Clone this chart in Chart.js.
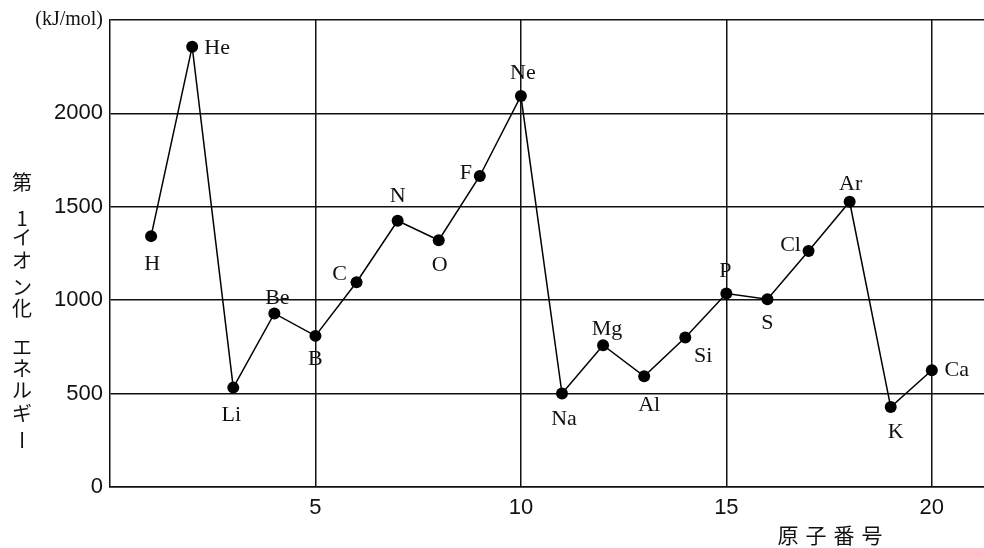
<!DOCTYPE html>
<html>
<head>
<meta charset="utf-8">
<script src="https://cdn.jsdelivr.net/npm/chart.js@4.4.1/dist/chart.umd.min.js"></script>
<style>
  body { margin: 0; background: #fff; }
  canvas { display: block; }
</style>
</head>
<body>
<canvas id="ieChart" width="984" height="548"></canvas>
<script>
// first ionization energy (kJ/mol) of elements 1-20
const atomicNumbers = [1, 2, 3, 4, 5, 6, 7, 8, 9, 10, 11, 12, 13, 14, 15, 16, 17, 18, 19, 20];
const symbols = ['H', 'He', 'Li', 'Be', 'B', 'C', 'N', 'O', 'F', 'Ne', 'Na', 'Mg', 'Al', 'Si', 'P', 'S', 'Cl', 'Ar', 'K', 'Ca'];
const energies = [1343, 2357, 532, 929, 809, 1096, 1425, 1321, 1665, 2093, 500, 759, 593, 800, 1036, 1005, 1263, 1527, 428, 625];
const xTicks = [5, 10, 15, 20];
const yTicks = [0, 500, 1000, 1500, 2000, 2500];
const yUnit = '(kJ/mol)';
const yTitle = '第1イオン化エネルギー';
const xTitle = '原子番号';

// where each element's name sits relative to its dot [dx, dy]
const labelOffsets = [
    [1, 28], [25, 2], [-2, 28], [3, -15], [0, 23], [-17, -8], [0, -25], [1, 25], [-14, -3], [2, -23],
    [2, 26], [4, -16], [5, 29], [18, 19], [-1, -22], [0, 24], [-18, -6], [1, -18], [5, 25], [25, 0]
];
// vertical title: centre y of each character
const yTitleRows = [182, 218, 237, 260, 287, 308, 347, 368, 390, 413, 440];

const ink = '#111';
const tickFont = { family: '"Liberation Sans", Arial, sans-serif', size: 22 };
const serif = '"Liberation Serif", "Times New Roman", serif';
const cjk = '"Noto Sans CJK JP", sans-serif';

const labelsPlugin = {
    id: 'labelsPlugin',
    afterDatasetsDraw(chart) {
        const ctx = chart.ctx;
        const meta = chart.getDatasetMeta(0);
        ctx.save();
        ctx.fillStyle = ink;
        ctx.textAlign = 'center';
        ctx.textBaseline = 'middle';

        // element names next to the points
        ctx.font = '22px ' + serif;
        meta.data.forEach((pt, i) => {
            const [dx, dy] = labelOffsets[i];
            ctx.fillText(symbols[i], pt.x + dx, pt.y + dy);
        });

        // y title, written top to bottom
        ctx.font = '20px ' + cjk;
        Array.from(yTitle).forEach((ch, i) => {
            const y = yTitleRows[i];
            if (ch === 'ー') {
                ctx.save();
                ctx.translate(22, y);
                ctx.rotate(Math.PI / 2);
                ctx.fillText(ch, 0, 0);
                ctx.restore();
            } else {
                ctx.fillText(ch, 22, y);
            }
        });

        // x title, spaced out
        ctx.font = '21px ' + cjk;
        Array.from(xTitle).forEach((ch, i) => {
            ctx.fillText(ch, 788 + i * 28, 535);
        });
        ctx.restore();
    }
};

new Chart(document.getElementById('ieChart'), {
    type: 'line',
    data: {
        datasets: [{
            data: atomicNumbers.map((n, i) => ({ x: n, y: energies[i] })),
            borderColor: '#000',
            borderWidth: 1.5,
            pointRadius: 6,
            pointBackgroundColor: '#000',
            pointBorderWidth: 0,
            tension: 0
        }]
    },
    options: {
        responsive: false,
        animation: false,
        layout: { autoPadding: false, padding: { top: 20, left: 0, right: 0, bottom: 0 } },
        plugins: {
            legend: { display: false },
            tooltip: { enabled: false }
        },
        scales: {
            x: {
                type: 'linear',
                min: 0,
                max: 21.27,
                afterBuildTicks: scale => { scale.ticks = xTicks.map(v => ({ value: v })); },
                afterFit: scale => { scale.height = 61; },
                grid: { color: ink, lineWidth: 1.5, drawTicks: false },
                border: { color: ink, width: 1.5 },
                ticks: { color: ink, font: tickFont, padding: 8, maxRotation: 0 }
            },
            y: {
                min: 0,
                max: 2500,
                afterBuildTicks: scale => { scale.ticks = yTicks.map(v => ({ value: v })); },
                afterFit: scale => { scale.width = 110; },
                grid: { color: ink, lineWidth: 1.5, drawTicks: false },
                border: { color: ink, width: 1.5 },
                ticks: {
                    color: ink,
                    padding: 7,
                    font: c => (c.tick && c.tick.value === 2500) ? { family: serif, size: 20 } : tickFont,
                    callback: v => v === 2500 ? yUnit : v
                }
            }
        }
    },
    plugins: [labelsPlugin]
});
</script>
</body>
</html>
